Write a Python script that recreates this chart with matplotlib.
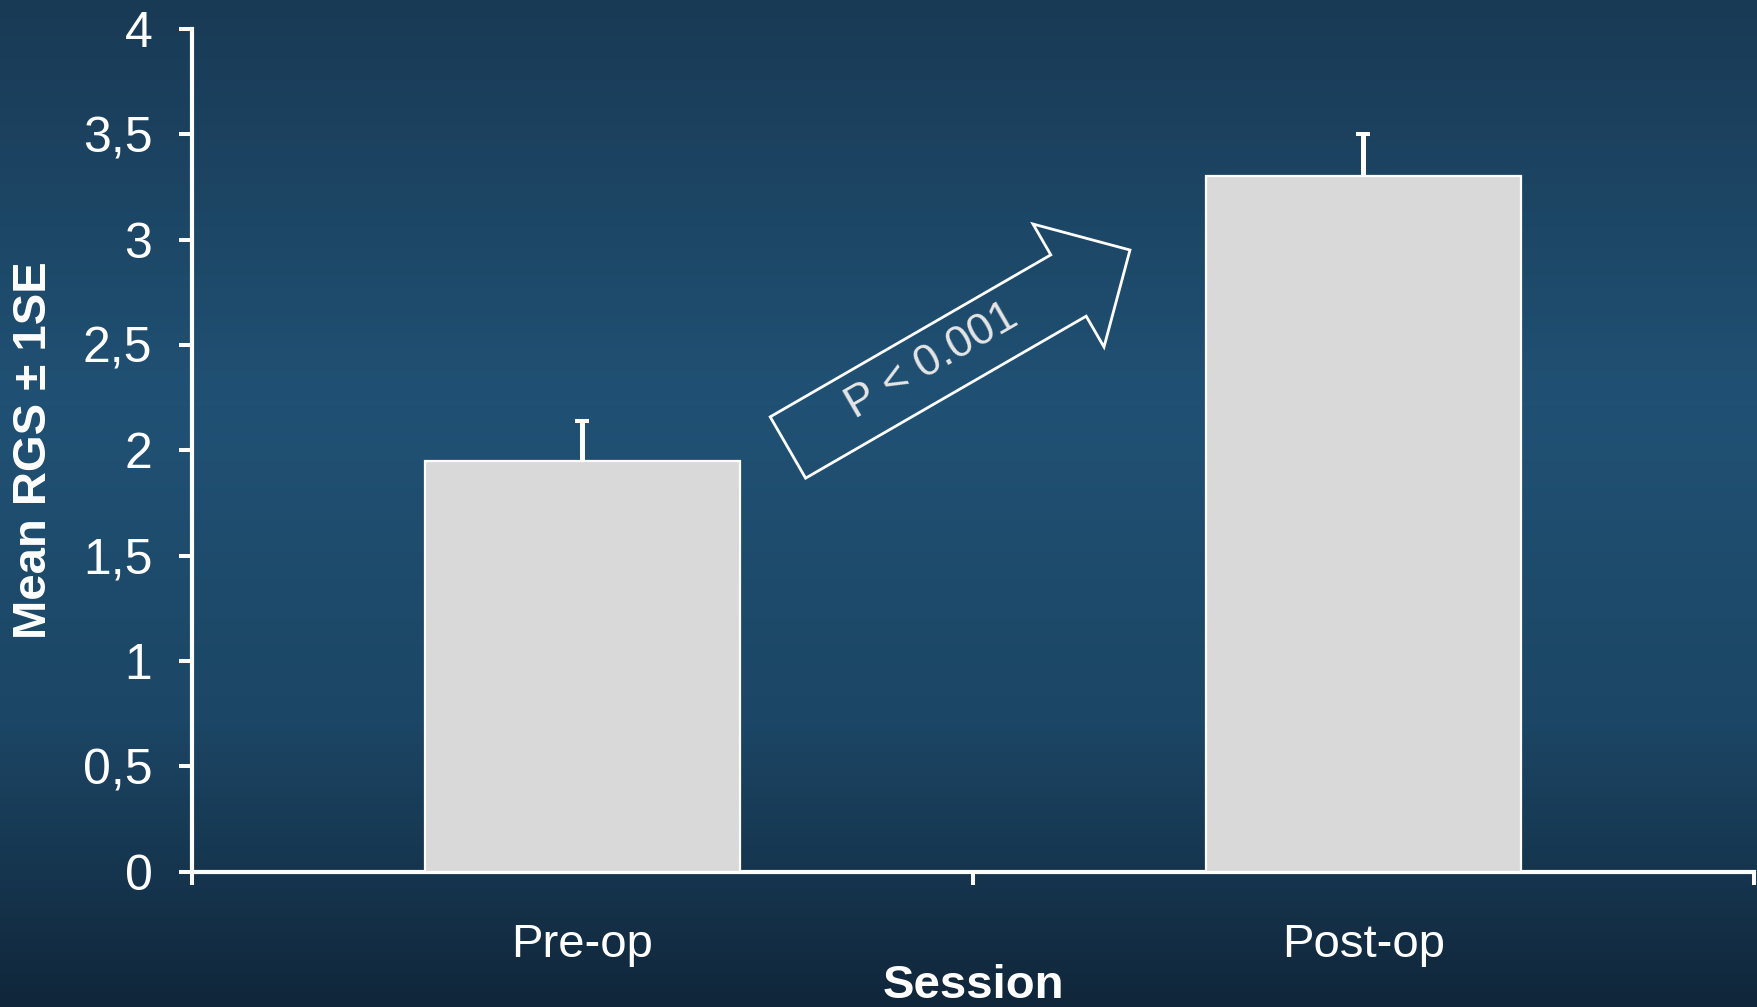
import numpy as np
import matplotlib
matplotlib.use("Agg")
import matplotlib.pyplot as plt
from matplotlib.colors import LinearSegmentedColormap
from matplotlib.patches import Polygon
from matplotlib.ticker import FixedLocator
import matplotlib.transforms as mtransforms

plt.rcParams["font.family"] = ["Liberation Sans", "DejaVu Sans"]

# data
sessions = ["Pre-op", "Post-op"]
mean_rgs = [1.95, 3.30]
se_rgs = [0.19, 0.20]
ytick_values = [0, 0.5, 1, 1.5, 2, 2.5, 3, 3.5, 4]
ytick_labels = ["0", "0,5", "1", "1,5", "2", "2,5", "3", "3,5", "4"]
p_text = "P < 0.001"

W, H, DPI = 1758, 1007, 100
fig = plt.figure(figsize=(W / DPI, H / DPI), dpi=DPI)

# ---- gradient background ----
bg = fig.add_axes([0, 0, 1, 1], zorder=-10)
cmap = LinearSegmentedColormap.from_list(
    "bg",
    [(0.0, "#193a55"), (0.40, "#205174"), (0.72, "#1c4665"), (1.0, "#10263a")],
)
bg.imshow(np.linspace(0, 1, 256).reshape(-1, 1), aspect="auto", cmap=cmap,
          extent=[0, 1, 0, 1])
bg.set_axis_off()

# ---- main axes ----
ax = fig.add_axes([192 / W, 1 - 871.5 / H, 1562 / W, 842.5 / H])
ax.set_facecolor("none")

x = np.arange(len(sessions))
ax.bar(x, mean_rgs, width=0.404, color="#d9d9d9", edgecolor="white",
       linewidth=1.6, zorder=3)
_, caps, _ = ax.errorbar(x, mean_rgs, yerr=[np.zeros(len(se_rgs)), se_rgs],
                         fmt="none", ecolor="white", elinewidth=3.6,
                         capsize=4.7, capthick=2.9, zorder=2)
caps[0].set_visible(False)  # no cap at the bar top

ax.set_xlim(-0.5, 1.5)
ax.set_ylim(0, 4)

for side in ["top", "right"]:
    ax.spines[side].set_visible(False)
for side in ["left", "bottom"]:
    ax.spines[side].set_color("white")
    ax.spines[side].set_linewidth(3.0)

ax.yaxis.set_major_locator(FixedLocator(ytick_values))
ax.set_yticklabels(ytick_labels)
ax.tick_params(axis="y", colors="white", labelsize=36, length=9.5, width=2.9,
               direction="out", pad=19)

ax.set_xticks(x)
ax.set_xticklabels(sessions)
ax.set_xticks([-0.5, 0.5, 1.5], minor=True)
ax.tick_params(axis="x", which="major", colors="white", labelsize=34,
               length=0, pad=37)
ax.tick_params(axis="x", which="minor", colors="white", length=9.5, width=2.9,
               direction="out")

ax.set_xlabel("Session", color="white", fontsize=34, fontweight="bold")
ax.xaxis.set_label_coords(0.5, -0.11)
ax.set_ylabel("Mean RGS \u00b1 1SE", color="white", fontsize=34,
              fontweight="bold")
ax.yaxis.set_label_coords(-0.087, 0.5)

# ---- block arrow with p-value ----
angle = 30
shaft_len, half_w, head_half_w, head_len = 324, 35.4, 71, 71
shape = [
    (0, half_w), (shaft_len, half_w), (shaft_len, head_half_w),
    (shaft_len + head_len, 0),
    (shaft_len, -head_half_w), (shaft_len, -half_w), (0, -half_w),
]
tail = ax.transData.transform((0.263, 2.013))
rot = mtransforms.Affine2D().rotate_deg(angle).translate(*tail)
arrow = Polygon(shape, closed=True, fill=False, edgecolor="white",
                linewidth=2.0, transform=rot, zorder=5)
fig.add_artist(arrow)

tx, ty = rot.transform((168, 2))
fig.text(tx / W, ty / H, p_text, color="#e6e6e6", fontsize=32,
         rotation=angle, rotation_mode="anchor", ha="center", va="center",
         zorder=6)

fig.savefig("out.png", dpi=DPI)
